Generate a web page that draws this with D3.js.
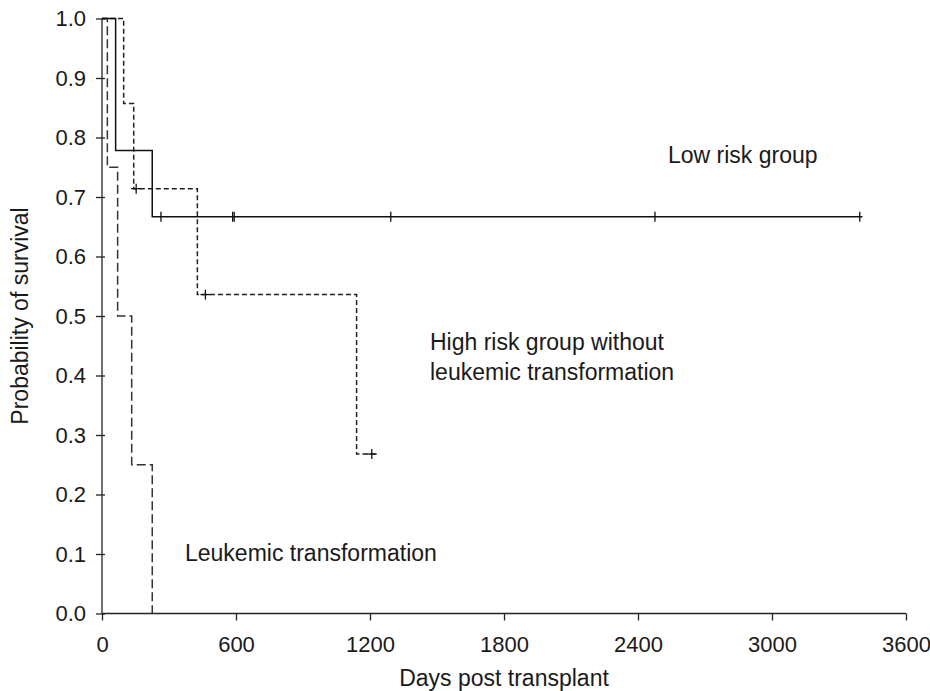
<!DOCTYPE html>
<html><head><meta charset="utf-8">
<script src="https://cdn.jsdelivr.net/npm/d3@7"></script>
<style>body{margin:0;background:#fff}svg{display:block}text{font-family:"Liberation Sans",Arial,sans-serif;fill:#1a1a1a}
.tick text{font-family:"Liberation Sans Narrow","Arial Narrow",sans-serif}</style>
</head><body>
<script>
// Kaplan-Meier data (days, survival probability)
const lowTimes = [0, 61, 225, 3405];
const lowSurv = [1, 0.778, 0.667, 0.667];
const lowCensor = [264, 585, 592, 1293, 2476, 3393];

const highTimes = [0, 97, 142, 427, 1140, 1228];
const highSurv = [1, 0.857, 0.714, 0.536, 0.268, 0.268];
const highCensor = [{t: 153, s: 0.714}, {t: 463, s: 0.536}, {t: 1208, s: 0.268}];

const leukTimes = [0, 24, 70, 133, 225];
const leukSurv = [1, 0.75, 0.5, 0.25, 0];

const xTicks = [0, 600, 1200, 1800, 2400, 3000, 3600];
const yTicks = [0, 0.1, 0.2, 0.3, 0.4, 0.5, 0.6, 0.7, 0.8, 0.9, 1.0];

const W = 930, H = 691;
const x = d3.scaleLinear().domain([0, 3600]).range([102, 906]);
const y = d3.scaleLinear().domain([0, 1]).range([613.5, 18.5]);

const svg = d3.select("body").append("svg").attr("width", W).attr("height", H);

// axes
const xAxis = d3.axisBottom(x).tickValues(xTicks).tickSize(7).tickFormat(d3.format("d"));
const gx = svg.append("g").attr("transform", `translate(0,${y(0)})`).call(xAxis);
gx.select(".domain").attr("stroke", "#222").attr("stroke-width", 1.3).attr("d", `M${x(0)},0H${x(3600)}`);
gx.selectAll(".tick line").attr("stroke", "#222").attr("stroke-width", 1.3);
gx.selectAll(".tick text").attr("font-size", 22).attr("y", 23).attr("dy", "0.71em").attr("fill", "#1a1a1a");

const yAxis = d3.axisLeft(y).tickValues(yTicks).tickSize(6).tickFormat(d3.format(".1f"));
const gy = svg.append("g").attr("transform", `translate(${x(0)},0)`).call(yAxis);
gy.select(".domain").attr("stroke", "#222").attr("stroke-width", 1.3).attr("d", `M0,${y(0)}V${y(1)}`);
gy.selectAll(".tick line").attr("stroke", "#222").attr("stroke-width", 1.3).attr("x1", 3);
gy.selectAll(".tick text").attr("font-size", 22).attr("x", -16).attr("fill", "#1a1a1a");

function stepPath(times, surv) {
  let d = `M${x(times[0])},${y(surv[0])}`;
  for (let i = 1; i < times.length; i++) {
    d += `H${x(times[i])}V${y(surv[i])}`;
  }
  return d;
}

// high risk (short dash)
svg.append("path").attr("d", stepPath(highTimes, highSurv))
  .attr("fill", "none").attr("stroke", "#222").attr("stroke-width", 1.5).attr("stroke-dasharray", "5,3");
// leukemic (long dash)
svg.append("path").attr("d", stepPath(leukTimes, leukSurv))
  .attr("fill", "none").attr("stroke", "#333").attr("stroke-width", 1.5).attr("stroke-dasharray", "9,4");
// low risk (solid)
svg.append("path").attr("d", stepPath(lowTimes, lowSurv))
  .attr("fill", "none").attr("stroke", "#111").attr("stroke-width", 1.5);

// censor marks
svg.selectAll(".lc").data(lowCensor).join("line")
  .attr("x1", d => x(d)).attr("x2", d => x(d))
  .attr("y1", y(0.667) - 5).attr("y2", y(0.667) + 5)
  .attr("stroke", "#111").attr("stroke-width", 1.3);
svg.selectAll(".hc").data(highCensor).join("line")
  .attr("x1", d => x(d.t)).attr("x2", d => x(d.t))
  .attr("y1", d => y(d.s) - 5).attr("y2", d => y(d.s) + 5)
  .attr("stroke", "#111").attr("stroke-width", 1.3);
svg.selectAll(".hch").data(highCensor).join("line")
  .attr("x1", d => x(d.t) - 5).attr("x2", d => x(d.t) + 5)
  .attr("y1", d => y(d.s)).attr("y2", d => y(d.s))
  .attr("stroke", "#111").attr("stroke-width", 1.3);

// labels
const fs = 23;
svg.append("text").attr("x", 668).attr("y", 163).attr("font-size", fs).text("Low risk group");
svg.append("text").attr("x", 430).attr("y", 350).attr("font-size", fs).text("High risk group without");
svg.append("text").attr("x", 430).attr("y", 380).attr("font-size", fs).text("leukemic transformation");
svg.append("text").attr("x", 185).attr("y", 561).attr("font-size", fs).text("Leukemic transformation");
svg.append("text").attr("x", 504).attr("y", 686).attr("font-size", fs).attr("text-anchor", "middle").text("Days post transplant");
svg.append("text").attr("transform", "translate(28,316) rotate(-90)").attr("font-size", fs)
  .attr("text-anchor", "middle").text("Probability of survival");
</script>
</body></html>
